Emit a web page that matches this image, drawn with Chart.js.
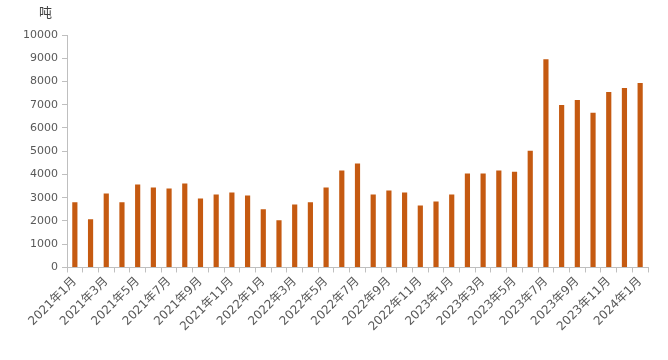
<!DOCTYPE html>
<html>
<head>
<meta charset="utf-8">
<script src="https://cdn.jsdelivr.net/npm/chart.js@4"></script>
<style>
  html, body { margin: 0; padding: 0; background: #fff; }
  #wrap { width: 668px; height: 360px; position: relative; }
</style>
</head>
<body>
<div id="wrap"><canvas id="salesChart"></canvas></div>
<script>
/* ===============================
   DATA
   =============================== */
const months = [
  "2021年1月", "2021年2月", "2021年3月", "2021年4月", "2021年5月", "2021年6月",
  "2021年7月", "2021年8月", "2021年9月", "2021年10月", "2021年11月", "2021年12月",
  "2022年1月", "2022年2月", "2022年3月", "2022年4月", "2022年5月", "2022年6月",
  "2022年7月", "2022年8月", "2022年9月", "2022年10月", "2022年11月", "2022年12月",
  "2023年1月", "2023年2月", "2023年3月", "2023年4月", "2023年5月", "2023年6月",
  "2023年7月", "2023年8月", "2023年9月", "2023年10月", "2023年11月", "2023年12月",
  "2024年1月"
];

const tonnage = [
  2800, 2070, 3180, 2800, 3570, 3440, 3400, 3610, 2970, 3140, 3220, 3100,
  2500, 2030, 2710, 2800, 3440, 4170, 4470, 3140, 3310, 3220, 2670, 2840,
  3140, 4040, 4040, 4170, 4120, 5020, 8960, 6990, 7200, 6650, 7550, 7720,
  7930
];

const yTicks = [0, 1000, 2000, 3000, 4000, 5000, 6000, 7000, 8000, 9000, 10000];
const unitLabel = "吨";

/* ===============================
   UNIT LABEL PLUGIN
   =============================== */
const unitPlugin = {
  id: "unitLabel",
  afterDraw(chart) {
    const c = chart.ctx;
    c.save();
    c.font = "13px 'Noto Sans CJK SC'";
    c.fillStyle = "#404040";
    c.textAlign = "left";
    c.textBaseline = "middle";
    c.fillText(unitLabel, 39, 12);
    c.restore();
  }
};

const axisGrey = "#bfbfbf";
const labelGrey = "#595959";
const tickFont = "'DejaVu Sans', 'Noto Sans CJK SC'";

new Chart(document.getElementById("salesChart").getContext("2d"), {
  type: "bar",
  data: {
    labels: months,
    datasets: [{
      label: unitLabel,
      data: tonnage,
      backgroundColor: "#c55a11",
      barPercentage: 0.33,
      categoryPercentage: 1
    }]
  },
  options: {
    responsive: true,
    maintainAspectRatio: false,
    animation: false,
    layout: { padding: { top: 35, right: 20, left: 0, bottom: 24 } },
    plugins: {
      legend: { display: false },
      tooltip: { enabled: false }
    },
    scales: {
      x: {
        grid: {
          offset: true,
          drawOnChartArea: false,
          drawTicks: true,
          tickLength: 5,
          color: axisGrey
        },
        border: { color: axisGrey },
        ticks: {
          autoSkip: false,
          maxRotation: 45,
          minRotation: 45,
          padding: 2,
          color: labelGrey,
          font: { family: tickFont, size: 12 },
          callback: (v, i) => (i % 2 === 0 ? months[i] : "")
        }
      },
      y: {
        min: 0,
        max: 10000,
        afterFit: scale => { scale.width = 67; },
        afterBuildTicks: scale => {
          scale.ticks = yTicks.map(v => ({ value: v }));
        },
        grid: {
          drawOnChartArea: false,
          drawTicks: true,
          tickLength: 5,
          color: axisGrey
        },
        border: { color: axisGrey },
        ticks: {
          padding: 4,
          color: labelGrey,
          font: { family: tickFont, size: 11 },
          callback: v => String(v)
        }
      }
    }
  },
  plugins: [unitPlugin]
});
</script>
</body>
</html>
